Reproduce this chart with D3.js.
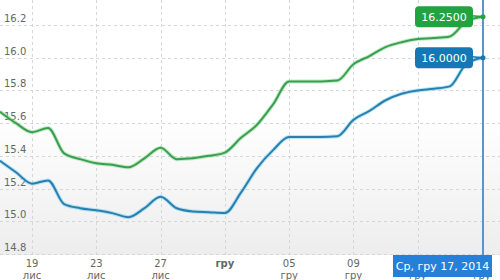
<!DOCTYPE html>
<html>
<head>
<meta charset="utf-8">
<script src="https://cdn.jsdelivr.net/npm/d3@7"></script>
<style>
  html, body { margin: 0; padding: 0; background: #fff; }
  svg { display: block; font-family: "DejaVu Sans", Verdana, sans-serif; }
</style>
</head>
<body>
<svg width="500" height="280"></svg>
<script>
// daily rates, 17 Nov 2014 .. 17 Dec 2014
const dates = [
	"2014-11-17","2014-11-18","2014-11-19","2014-11-20","2014-11-21","2014-11-22","2014-11-23",
	"2014-11-24","2014-11-25","2014-11-26","2014-11-27","2014-11-28","2014-11-29","2014-11-30",
	"2014-12-01","2014-12-02","2014-12-03","2014-12-04","2014-12-05","2014-12-06","2014-12-07",
	"2014-12-08","2014-12-09","2014-12-10","2014-12-11","2014-12-12","2014-12-13","2014-12-14",
	"2014-12-15","2014-12-16","2014-12-17"
];
const sellValues = [
	15.67, 15.60, 15.545, 15.57, 15.415, 15.38, 15.355,
	15.345, 15.33, 15.385, 15.45, 15.38, 15.385, 15.40,
	15.42, 15.51, 15.59, 15.715, 15.855, 15.855, 15.855,
	15.86, 15.96, 16.01, 16.065, 16.095, 16.115, 16.12,
	16.13, 16.22, 16.25
];
const buyValues = [
	15.37, 15.30, 15.23, 15.25, 15.105, 15.08, 15.067,
	15.05, 15.025, 15.08, 15.15, 15.08, 15.06, 15.055,
	15.05, 15.175, 15.325, 15.435, 15.515, 15.515, 15.515,
	15.52, 15.62, 15.675, 15.74, 15.78, 15.80, 15.81,
	15.825, 15.96, 16.0
];
const yTicks = [14.8, 15.0, 15.2, 15.4, 15.6, 15.8, 16.0, 16.2];
const xTickDates = ["2014-11-19","2014-11-23","2014-11-27","2014-12-01","2014-12-05","2014-12-09","2014-12-13","2014-12-17"];
const xTickTop = ["19", "23", "27", "", "05", "09", "13", "17"];
const xTickBottom = ["лис", "лис", "лис", "гру", "гру", "гру", "гру", "гру"];
const sellLabel = "16.2500";
const buyLabel = "16.0000";
const cursorLabel = "Ср, гру 17, 2014";

const parse = d3.utcParse("%Y-%m-%d");
const width = 500;
const plotBottom = 255;

const svg = d3.select("svg");

const x = d3.scaleUtc()
	.domain([parse("2014-11-19"), parse("2014-12-17")])
	.range([32, 482]);

const y = d3.scaleLinear()
	.domain([14.8, 16.2])
	.range([254, 25]);

// plot background gradient
const defs = svg.append("defs");
const grad = defs.append("linearGradient")
	.attr("id", "bg")
	.attr("x1", 0).attr("y1", 0).attr("x2", 0).attr("y2", 1);
grad.append("stop").attr("offset", "0%").attr("stop-color", "#ffffff");
grad.append("stop").attr("offset", "45%").attr("stop-color", "#ffffff");
grad.append("stop").attr("offset", "100%").attr("stop-color", "#ededed");

defs.append("clipPath").attr("id", "clip")
	.append("rect").attr("x", 0).attr("y", 0).attr("width", width).attr("height", plotBottom);

svg.append("rect")
	.attr("x", 0).attr("y", 0)
	.attr("width", width).attr("height", plotBottom)
	.attr("fill", "url(#bg)");

// grid
const grid = svg.append("g").attr("stroke", "#d6d6d6").attr("stroke-dasharray", "3,3");
grid.selectAll("line.h")
	.data(yTicks)
	.enter().append("line")
	.attr("class", "h")
	.attr("x1", 0).attr("x2", width)
	.attr("y1", d => Math.round(y(d)) + 0.5)
	.attr("y2", d => Math.round(y(d)) + 0.5);
grid.selectAll("line.v")
	.data(xTickDates)
	.enter().append("line")
	.attr("class", "v")
	.attr("x1", d => Math.round(x(parse(d))) + 0.5)
	.attr("x2", d => Math.round(x(parse(d))) + 0.5)
	.attr("y1", 0).attr("y2", plotBottom);

// y labels sit just above their grid line
svg.append("g").selectAll("text")
	.data(yTicks)
	.enter().append("text")
	.attr("x", 4)
	.attr("y", d => y(d) - 3)
	.attr("font-size", 10)
	.attr("fill", "#666")
	.text(d => d.toFixed(1));

// x labels
const xl = svg.append("g").attr("fill", "#666").attr("font-size", 10).attr("text-anchor", "middle");
xl.selectAll("text.top")
	.data(xTickDates)
	.enter().append("text")
	.attr("class", "top")
	.attr("x", d => x(parse(d)))
	.attr("y", 267)
	.attr("font-weight", (d, i) => xTickTop[i] === "" ? "bold" : null)
	.text((d, i) => xTickTop[i] === "" ? xTickBottom[i] : xTickTop[i]);
xl.selectAll("text.bot")
	.data(xTickDates.filter((d, i) => xTickTop[i] !== ""))
	.enter().append("text")
	.attr("class", "bot")
	.attr("x", d => x(parse(d)))
	.attr("y", 279)
	.text(d => xTickBottom[xTickDates.indexOf(d)]);

// lines
const line = d3.line()
	.x(d => x(d.date))
	.y(d => y(d.value))
	.curve(d3.curveMonotoneX);

const sellData = dates.map((d, i) => ({date: parse(d), value: sellValues[i]}));
const buyData = dates.map((d, i) => ({date: parse(d), value: buyValues[i]}));

const lines = svg.append("g").attr("clip-path", "url(#clip)").attr("fill", "none");
[[buyData, "#7fd3f0", "#2a7fae"], [sellData, "#8fdc9a", "#3a9e50"]].forEach(function(s){
	lines.append("path").datum(s[0])
		.attr("d", line)
		.attr("stroke", s[1]).attr("stroke-width", 4).attr("stroke-opacity", 0.55);
	lines.append("path").datum(s[0])
		.attr("d", line)
		.attr("stroke", s[2]).attr("stroke-width", 2);
});

// crosshair at last date
const lastX = x(parse(dates[dates.length - 1]));
svg.append("line")
	.attr("x1", lastX + 1).attr("x2", lastX + 1)
	.attr("y1", 0).attr("y2", 258)
	.attr("stroke", "#5d93c6").attr("stroke-width", 2);

// value flags
function flag(value, text, color){
	const cy = y(value);
	svg.append("line")
		.attr("x1", 472).attr("x2", lastX + 1)
		.attr("y1", cy - 1).attr("y2", cy)
		.attr("stroke", color).attr("stroke-width", 1.5);
	svg.append("circle")
		.attr("cx", lastX + 1).attr("cy", cy).attr("r", 2.5)
		.attr("fill", color);
	svg.append("rect")
		.attr("x", 415).attr("y", cy - 10.5)
		.attr("width", 58).attr("height", 21)
		.attr("rx", 4)
		.attr("fill", color);
	svg.append("text")
		.attr("x", 444).attr("y", cy + 4)
		.attr("text-anchor", "middle")
		.attr("font-size", 11)
		.attr("fill", "#fff")
		.text(text);
}
flag(sellValues[sellValues.length - 1], sellLabel, "#23a33f");
flag(buyValues[buyValues.length - 1], buyLabel, "#1578b4");

// date tooltip
svg.append("rect")
	.attr("x", 393).attr("y", 255)
	.attr("width", 99).attr("height", 22)
	.attr("fill", "#2680d9");
svg.append("text")
	.attr("x", 442.5).attr("y", 270)
	.attr("text-anchor", "middle")
	.attr("font-size", 11)
	.attr("fill", "#fff")
	.text(cursorLabel);
</script>
</body>
</html>
